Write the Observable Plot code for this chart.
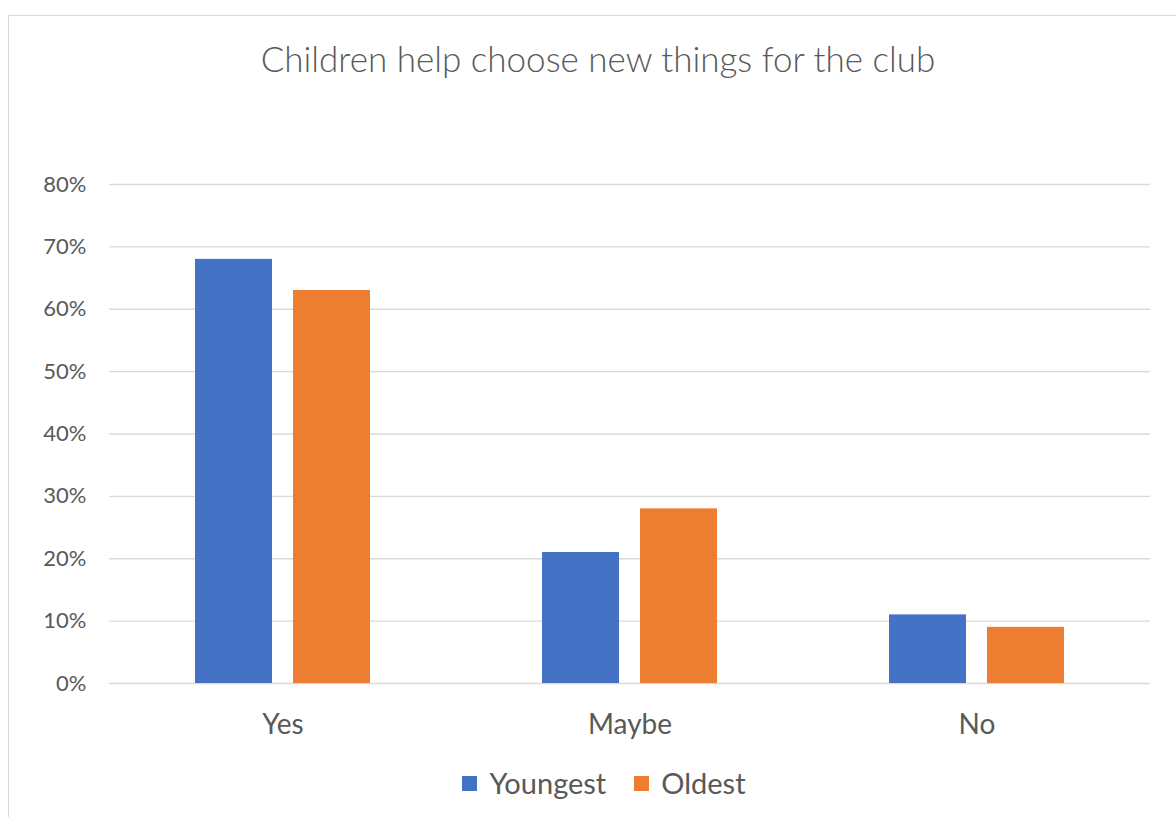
<!DOCTYPE html>
<html>
<head>
<meta charset="utf-8">
<script src="https://cdn.jsdelivr.net/npm/d3@7"></script>
<script src="https://cdn.jsdelivr.net/npm/@observablehq/plot@0.6"></script>
<style>
  html, body { margin: 0; padding: 0; background: #fff; }
  #wrap { position: relative; width: 1176px; height: 817px; overflow: hidden; font-family: Lato, "Open Sans", sans-serif; color: #595959; }
  #frame { position: absolute; left: 8px; top: 15px; width: 1200px; height: 840px; border: 1px solid #d9d9d9; box-sizing: border-box; }
  #title { position: absolute; left: 0; top: 35px; width: 1196px; text-align: center; font-size: 35px; line-height: 46px; font-weight: 300; }
  #chart { position: absolute; left: 0; top: 120px; }
  #legend { position: absolute; left: 0; top: 765px; width: 1208px; display: flex; justify-content: center; align-items: center; font-size: 29px; line-height: 36px; }
  .item { display: flex; align-items: center; margin: 0 14px; }
  .sw { width: 15px; height: 15px; margin-right: 12px; }
</style>
</head>
<body>
<div id="wrap">
  <div id="frame"></div>
  <div id="title">Children help choose new things for the club</div>
  <div id="chart"></div>
  <div id="legend"></div>
</div>
<script>
const categories = ["Yes", "Maybe", "No"];
const seriesNames = ["Youngest", "Oldest"];
const youngest = [0.68, 0.21, 0.11];
const oldest = [0.63, 0.28, 0.09];
const colors = ["#4472C4", "#ED7D31"];
const yTicks = [0, 0.1, 0.2, 0.3, 0.4, 0.5, 0.6, 0.7, 0.8];

const rows = [];
categories.forEach((c, i) => {
  rows.push({category: c, series: seriesNames[0], value: youngest[i]});
  rows.push({category: c, series: seriesNames[1], value: oldest[i]});
});

const plot = Plot.plot({
  width: 1176,
  height: 633,
  marginLeft: 108,
  marginRight: 26,
  marginTop: 64,
  marginBottom: 70,
  style: { fontFamily: "Lato, 'Open Sans', sans-serif", color: "#595959", background: "transparent" },
  fx: { domain: categories, padding: 0, label: null, axis: "bottom", tickSize: 0, tickPadding: 31 },
  x: { domain: seriesNames, paddingInner: 0.212, paddingOuter: 0.86, axis: null },
  y: { domain: [0, 0.8], ticks: yTicks, tickFormat: d3.format(".0%"), label: null, tickSize: 0, tickPadding: 23 },
  color: { domain: seriesNames, range: colors },
  marks: [
    Plot.gridY(yTicks, { stroke: "#d9d9d9", strokeOpacity: 1, strokeWidth: 1.3 }),
    Plot.barY(rows, { fx: "category", x: "series", y: "value", fill: "series" })
  ]
});
d3.select(plot).selectAll("[aria-label='y-axis tick label']").style("font-size", "22px");
d3.select(plot).selectAll("[aria-label='fx-axis tick label']").style("font-size", "28px");
document.getElementById("chart").appendChild(plot);

const legend = document.getElementById("legend");
seriesNames.forEach((s, i) => {
  const item = document.createElement("div");
  item.className = "item";
  const sw = document.createElement("div");
  sw.className = "sw";
  sw.style.background = colors[i];
  const t = document.createElement("span");
  t.textContent = s;
  item.appendChild(sw);
  item.appendChild(t);
  legend.appendChild(item);
});
</script>
</body>
</html>
